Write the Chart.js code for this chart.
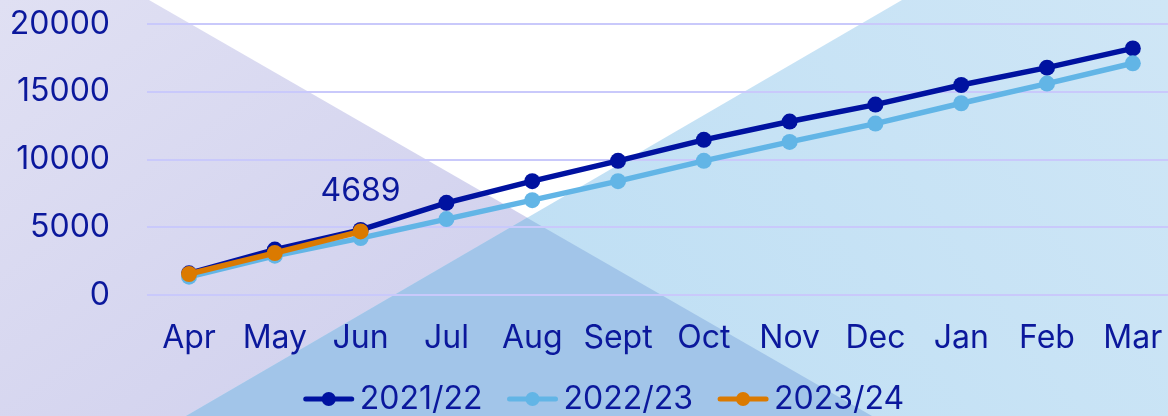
<!DOCTYPE html>
<html>
<head>
<meta charset="utf-8">
<script src="https://cdn.jsdelivr.net/npm/chart.js@4.4.0/dist/chart.umd.min.js"></script>
<style>
  html, body { margin: 0; padding: 0; background: #ffffff; }
  #wrap { width: 1168px; height: 416px; position: relative; }
</style>
</head>
<body>
<div id="wrap"><canvas id="c" width="1168" height="416"></canvas></div>
<script>
const months = ['Apr','May','Jun','Jul','Aug','Sept','Oct','Nov','Dec','Jan','Feb','Mar'];
const seriesNames = ['2021/22','2022/23','2023/24'];
const values2122 = [1600, 3350, 4800, 6800, 8400, 9900, 11450, 12800, 14050, 15500, 16780, 18200];
const values2223 = [1350, 2900, 4200, 5600, 7000, 8400, 9900, 11300, 12650, 14150, 15600, 17100];
const values2324 = [1550, 3100, 4689];
const yTicks = [0, 5000, 10000, 15000, 20000];
const seriesColors = ['#0012a0', '#62b5e6', '#db7a00'];
const textColor = '#0b189c';
const FONT = "Inter, 'Noto Sans', sans-serif";
const FSIZE = 32;

const bgPlugin = {
  id: 'bgShapes',
  beforeDraw(chart) {
    const ctx = chart.ctx, W = chart.width, H = chart.height;
    ctx.save();
    ctx.fillStyle = '#ffffff';
    ctx.fillRect(0, 0, W, H);
    let g = ctx.createLinearGradient(0, 0, 300, H);
    g.addColorStop(0, '#e0e0f3');
    g.addColorStop(1, '#d2d2ee');
    ctx.fillStyle = g;
    ctx.beginPath();
    ctx.moveTo(0, 0); ctx.lineTo(149, 0); ctx.lineTo(872, H); ctx.lineTo(0, H);
    ctx.closePath(); ctx.fill();
    g = ctx.createLinearGradient(W, 0, 600, H);
    g.addColorStop(0, '#cfe6f6');
    g.addColorStop(1, '#bfdff4');
    ctx.fillStyle = g;
    ctx.beginPath();
    ctx.moveTo(902, 0); ctx.lineTo(W, 0); ctx.lineTo(W, H); ctx.lineTo(186, H);
    ctx.closePath(); ctx.fill();
    ctx.fillStyle = '#a2c5e9';
    ctx.beginPath();
    ctx.moveTo(527, 217.7); ctx.lineTo(872, H); ctx.lineTo(186, H);
    ctx.closePath(); ctx.fill();
    ctx.restore();
  }
};

const labelPlugin = {
  id: 'lastLabel',
  afterDatasetsDraw(chart) {
    const meta = chart.getDatasetMeta(2);
    const idx = values2324.length - 1;
    const pt = meta.data[idx];
    if (!pt) return;
    const ctx = chart.ctx;
    ctx.save();
    ctx.font = FSIZE + "px " + FONT;
    ctx.fillStyle = textColor;
    ctx.textAlign = 'center';
    ctx.textBaseline = 'middle';
    ctx.fillText(String(values2324[idx]), pt.x, pt.y - 40);
    ctx.restore();
  }
};

// legend drawn from the datasets (line + dot marker, then label)
const legendPlugin = {
  id: 'lineLegend',
  afterDraw(chart) {
    const ctx = chart.ctx;
    ctx.save();
    ctx.font = FSIZE + "px " + FONT;
    const ds = chart.data.datasets;
    const mW = 50, gapIn = 6, gapOut = 25;
    const widths = ds.map(d => ctx.measureText(d.label).width);
    const total = widths.reduce((a, b) => a + b, 0) + ds.length * (mW + gapIn) + (ds.length - 1) * gapOut;
    let x = 604 - total / 2;
    const y = 399;
    ds.forEach((d, i) => {
      ctx.strokeStyle = d.borderColor;
      ctx.lineWidth = 5;
      ctx.lineCap = 'round';
      ctx.beginPath(); ctx.moveTo(x + 2, y); ctx.lineTo(x + mW - 2, y); ctx.stroke();
      ctx.fillStyle = d.borderColor;
      ctx.beginPath(); ctx.arc(x + mW / 2, y, 7, 0, Math.PI * 2); ctx.fill();
      x += mW + gapIn;
      ctx.fillStyle = textColor;
      ctx.textAlign = 'left';
      ctx.textBaseline = 'middle';
      ctx.fillText(d.label, x, y);
      x += widths[i] + gapOut;
    });
    ctx.restore();
  }
};

const allValues = [values2122, values2223, values2324];
const datasets = seriesNames.map((name, i) => ({
  label: name,
  data: allValues[i].map((v, j) => ({ x: j, y: v })),
  borderColor: seriesColors[i],
  backgroundColor: seriesColors[i],
  borderWidth: 5.5,
  pointRadius: 8,
  pointHoverRadius: 8,
  pointBorderWidth: 0,
  pointBackgroundColor: seriesColors[i],
  tension: 0,
  fill: false,
  clip: false,
  order: 3 - i
}));

new Chart(document.getElementById('c'), {
  type: 'line',
  data: { datasets },
  plugins: [bgPlugin, labelPlugin, legendPlugin],
  options: {
    responsive: false,
    animation: false,
    devicePixelRatio: 1,
    layout: { autoPadding: false, padding: { top: 24, right: 0, bottom: 0, left: 0 } },
    plugins: {
      tooltip: { enabled: false },
      legend: { display: false }
    },
    scales: {
      x: {
        type: 'linear',
        min: -0.49,
        max: 11.41,
        afterBuildTicks(scale) { scale.ticks = months.map((m, i) => ({ value: i })); },
        afterFit(scale) { scale.height = 121; scale.paddingLeft = 0; scale.paddingRight = 0; },
        grid: { display: true, color: 'rgba(0,0,0,0)', tickColor: 'rgba(0,0,0,0)', drawTicks: true, tickLength: 31 },
        border: { display: false },
        ticks: {
          color: textColor,
          padding: 0,
          font: { family: FONT, size: FSIZE, lineHeight: 0.8 },
          maxRotation: 0,
          autoSkip: false,
          callback: (v) => months[v]
        }
      },
      y: {
        min: 0,
        max: 20000,
        afterFit(scale) { scale.width = 147; },
        afterBuildTicks(scale) { scale.ticks = yTicks.map(v => ({ value: v })); },
        grid: { color: '#c9c9fb', lineWidth: 2, drawTicks: true, tickLength: 37, tickColor: 'rgba(0,0,0,0)' },
        border: { display: false },
        ticks: {
          color: textColor,
          padding: 0,
          font: { family: FONT, size: FSIZE },
          callback: (v) => String(v)
        }
      }
    }
  }
});
</script>
</body>
</html>
